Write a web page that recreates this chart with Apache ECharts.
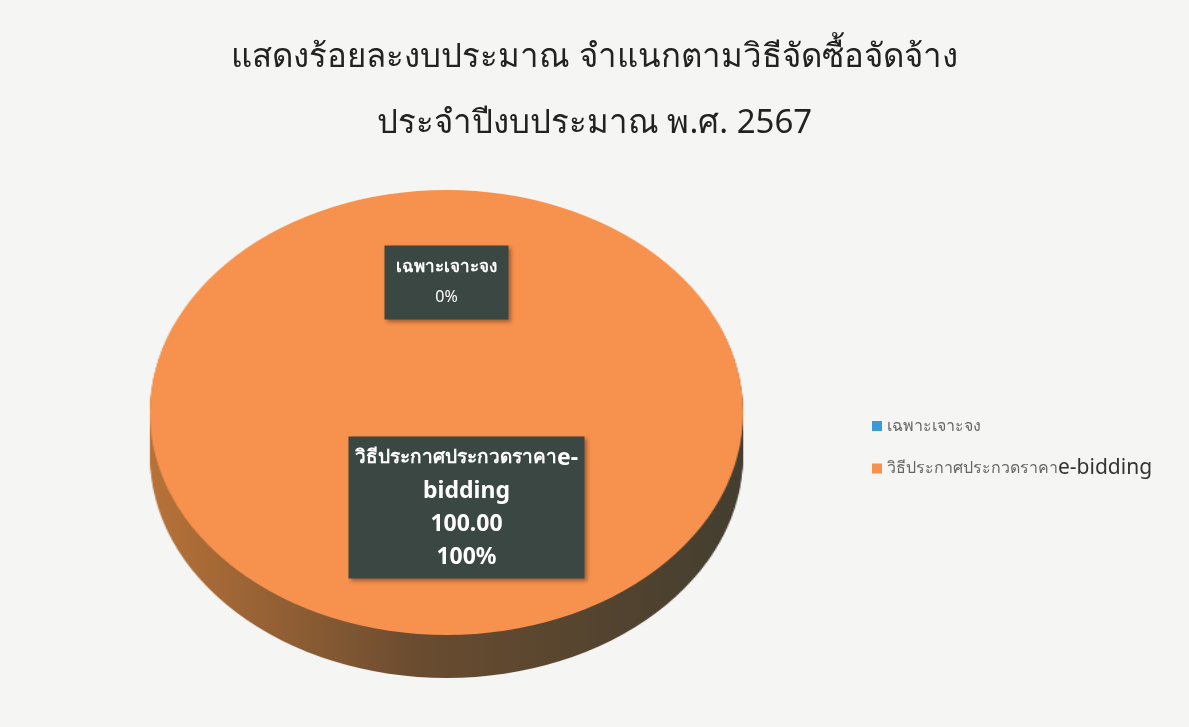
<!DOCTYPE html>
<html>
<head>
<meta charset="utf-8">
<script src="https://cdn.jsdelivr.net/npm/echarts@6/dist/echarts.min.js"></script>
<style>
  html, body { margin: 0; padding: 0; background: #f5f5f4; }
  #faces, #main { position: absolute; left: 0; top: 0; width: 1189px; height: 727px; }
  #faces { transform-origin: 446.5px 412.5px; transform: scaleX(1.333); }
</style>
</head>
<body>
<div id="faces"></div>
<div id="main"></div>
<script>
const categories = ['เฉพาะเจาะจง', 'วิธีประกาศประกวดราคาe-bidding']
const budget = [0, 100]
const colors = ['#3d9ad8', '#f7914e']

const cx = 446.5, cy = 412.5, r = 222.5
const depth = 43

const pieData = categories.map((name, i) => ({ name: name, value: budget[i] }))

// pie faces are drawn in a div stretched sideways to get the ellipse
const faces = echarts.init(document.querySelector('#faces'))
const sideColor = new echarts.graphic.LinearGradient(0, 0, 1, 0, [
  { offset: 0, color: '#b87238' },
  { offset: 0.45, color: '#6a4c30' },
  { offset: 1, color: '#433e2f' }
])
let sideSeries = []
for (let k = depth; k > 0; k -= 3) {
  sideSeries.push({
    type: 'pie',
    center: [cx, cy + k],
    radius: r,
    startAngle: 90,
    silent: true,
    animation: false,
    label: { show: false },
    labelLine: { show: false },
    itemStyle: { color: sideColor },
    data: pieData
  })
}
faces.setOption({
  series: sideSeries.concat([{
    type: 'pie',
    center: [cx, cy],
    radius: r,
    startAngle: 90,
    silent: true,
    animation: false,
    label: { show: false },
    labelLine: { show: false },
    itemStyle: { color: (p) => colors[p.dataIndex] },
    data: pieData
  }])
})

const myChart = echarts.init(document.querySelector('#main'))
const thaiFont = '"Noto Sans", "DejaVu Sans", sans-serif'

// split a category into its thai part and latin tail
function splitName(name) {
  const at = name.indexOf('e-')
  return at < 0 ? [name, ''] : [name.slice(0, at), name.slice(at)]
}

let option = {
  title: {
    text: 'แสดงร้อยละงบประมาณ จำแนกตามวิธีจัดซื้อจัดจ้าง\nประจำปีงบประมาณ พ.ศ. 2567',
    left: 'center',
    top: 20,
    textStyle: {
      fontSize: 33,
      fontWeight: 'normal',
      color: '#222',
      lineHeight: 66,
      fontFamily: thaiFont
    }
  },
  legend: {
    orient: 'vertical',
    left: 867,
    top: 413,
    itemGap: 24,
    itemWidth: 10,
    itemHeight: 10,
    icon: 'rect',
    selectedMode: false,
    data: categories.map((name, i) => ({ name: name, itemStyle: { color: colors[i], opacity: 1 } })),
    formatter: (name) => {
      const parts = splitName(name)
      return '{s|' + parts[0] + '}' + (parts[1] ? '{b|' + parts[1] + '}' : '')
    },
    textStyle: {
      fontFamily: thaiFont,
      rich: {
        s: { fontSize: 16, color: '#666', fontFamily: thaiFont },
        b: { fontSize: 21, color: '#333', fontFamily: thaiFont }
      }
    }
  },
  series: [
    {
      type: 'pie',
      center: [cx, cy],
      radius: 254,
      startAngle: 90,
      silent: true,
      animation: false,
      itemStyle: { color: 'rgba(0,0,0,0)', borderWidth: 0 },
      labelLine: { show: false },
      label: {
        show: true,
        opacity: 1,
        position: 'inside',
        color: '#fff',
        fontFamily: thaiFont,
        align: 'center',
        backgroundColor: '#3b4742',
        shadowColor: 'rgba(0,0,0,0.35)',
        shadowBlur: 4,
        shadowOffsetX: 2,
        shadowOffsetY: 2
      },
      data: pieData.map((d, i) => {
        const item = { name: d.name, value: d.value }
        if (i === 0) {
          item.label = {
            formatter: (p) => '{t|' + p.name + '}\n{l|' + Math.round(p.percent) + '%}',
            width: 110,
            padding: [7, 7, 7, 7],
            rich: {
              t: { fontSize: 17, fontWeight: 'bold', color: '#fff', lineHeight: 30, fontFamily: thaiFont },
              l: { fontSize: 16, color: '#fff', lineHeight: 30, fontFamily: thaiFont }
            }
          }
        } else {
          item.label = {
            formatter: (p) => {
              const parts = splitName(p.name)
              const tail = parts[1].split('-')
              return '{t|' + parts[0] + '}{l|' + tail[0] + '-}\n{l|' + tail[1] + '}\n{l|' +
                p.value.toFixed(2) + '}\n{l|' + Math.round(p.percent) + '%}'
            },
            width: 226,
            padding: [5, 5, 5, 5],
            offset: [20, -35],
            rich: {
              t: { fontSize: 19, fontWeight: 'bold', color: '#fff', lineHeight: 33, fontFamily: thaiFont },
              l: { fontSize: 23, fontWeight: 'bold', color: '#fff', lineHeight: 33, fontFamily: thaiFont }
            }
          }
        }
        return item
      })
    }
  ]
}
option && myChart.setOption(option)
</script>
</body>
</html>
